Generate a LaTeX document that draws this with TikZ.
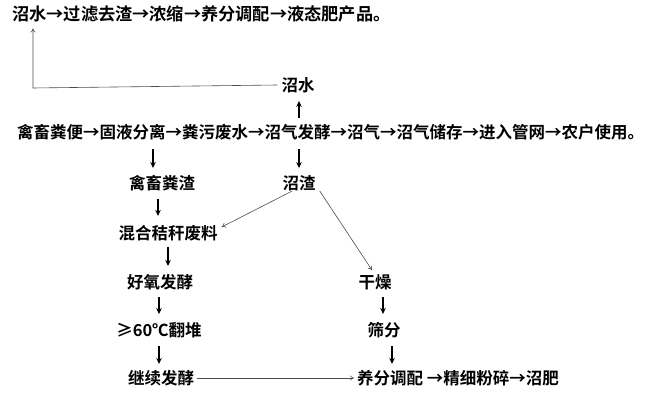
\documentclass[tikz,border=0pt]{standalone}
\usepackage{fontspec}
\usepackage{tikz}
\usetikzlibrary{arrows.meta}
\setmainfont{Noto Sans CJK SC}[BoldFont={* Bold}]

\begin{document}
\begin{tikzpicture}[x=1pt,y=-1pt,
		every node/.style={inner sep=0pt,font=\fontsize{16.5}{18}\selectfont\bfseries},
		dn/.style={line width=1.4pt,-{Stealth[length=6pt,width=5.5pt]}},
		ln/.style={draw=black!70,line width=0.6pt,-{To[length=4pt,width=5pt]}}]
				\useasboundingbox (0,0) rectangle (648,401);
				% Text lines
				\node[anchor=west,font=\fontsize{17.2}{19}\selectfont\bfseries] (yt) at (12,14) {沼水→过滤去渣→浓缩→养分调配→液态肥产品。};
				\node (zs) at (298,85) {沼水};
				\node[anchor=west] (main) at (17,132) {禽畜粪便→固液分离→粪污废水→沼气发酵→沼气→沼气储存→进入管网→农户使用。};
				
				\node (qcfz) at (162,183) {禽畜粪渣};
				\node (zz) at (299,183) {沼渣};
				
				\node (hh) at (168,233) {混合秸秆废料};
				\node (hy) at (160,282) {好氧发酵};
				\node (fd) at (159,330) {≥60℃翻堆};
				\node (jx) at (161,378) {继续发酵};
				
				\node (gz) at (375,282) {干燥};
				\node (sf) at (384,330) {筛分};
				\node[anchor=west] (yf) at (357,378) {养分调配 →精细粉碎→沼肥};
				
				% Bold arrows
				\draw[dn,shorten <=6pt,shorten >=8pt] ([xshift=1pt]zs.south |- main.north) -- ([xshift=1pt]zs.south);
				\draw[dn,shorten <=9pt,shorten >=7pt] ([xshift=-9pt]qcfz.north |- main.south) -- ([xshift=-9pt]qcfz.north);
				\draw[dn,shorten <=9pt,shorten >=7pt] (zz.north |- main.south) -- (zz.north);
				\draw[dn,shorten <=8pt,shorten >=9pt] ([xshift=-4pt]qcfz.south) -- ([xshift=-10pt]hh.north);
				\draw[dn,shorten <=6pt,shorten >=8pt] (hh.south) -- ([xshift=8pt]hy.north);
				\draw[dn,shorten <=7pt,shorten >=8pt] ([xshift=-1pt]hy.south) -- (fd.north);
				\draw[dn,shorten <=8pt,shorten >=6pt] (fd.south) -- ([xshift=-2pt]jx.north);
				\draw[dn,shorten <=7pt,shorten >=8pt] ([xshift=8pt]gz.south) -- ([xshift=-1pt]sf.north);
				\draw[dn,shorten <=8pt,shorten >=6pt] ([xshift=8pt]sf.south) -- ([xshift=35pt]yf.north west);
				
				% Thin lines
				\draw[ln] ([xshift=10pt]zz.south west) -- ([xshift=4pt,yshift=6pt]hh.east);
				\draw[ln] ([xshift=4pt]zz.south east) -- ([xshift=-3pt,yshift=4pt]gz.north);
				\draw[ln,shorten <=3pt,shorten >=3pt] (jx.east) -- (yf.west);
				\coordinate (cn) at (33,88);
				\draw[ln] ([xshift=-4pt]zs.west) -- (cn) -- ([yshift=-6pt]cn |- yt.south); % back to the top line
			\end{tikzpicture}
\end{document}
